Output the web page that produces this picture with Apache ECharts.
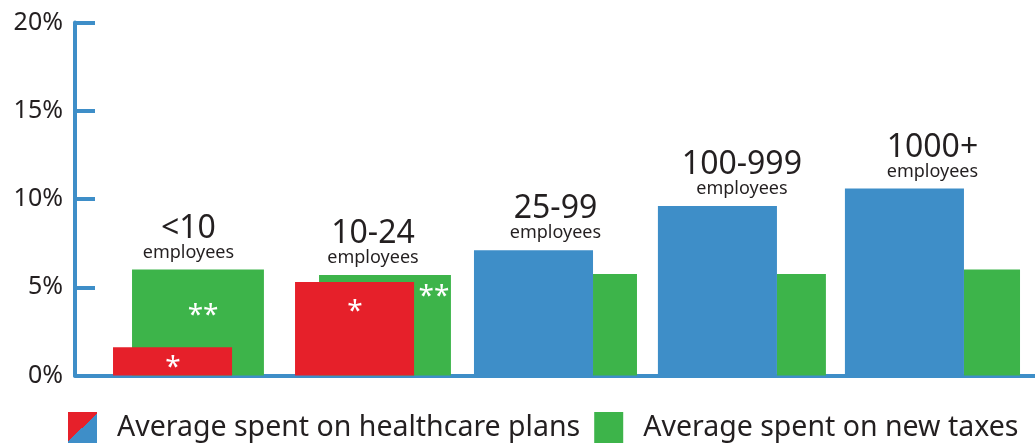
<!DOCTYPE html>
<html><head><meta charset="utf-8">
<script src="https://cdn.jsdelivr.net/npm/echarts@6/dist/echarts.min.js"></script>
<style>html,body{margin:0;padding:0;background:#fff;}#c{width:1035px;height:446px;}</style>
</head><body><div id="c"></div>
<script>
// ---- data ----
const categories = ['<10', '10-24', '25-99', '100-999', '1000+'];
const categorySub = 'employees';
const healthcareValues = [1.6, 5.3, 7.1, 9.6, 10.6];
const taxValues = [6.0, 5.7, 5.75, 5.75, 6.0];
const healthcareNotes = ['*', '*', '', '', ''];
const taxNotes = ['**', '**', '', '', ''];
const seriesNames = ['Average spent on healthcare plans', 'Average spent on new taxes'];
const yMin = 0, yMax = 20, yStep = 5;

// ---- layout / style (fractions of category band width) ----
const healthSpan = [[-0.302, 0.318], [-0.354, 0.266], [-0.422, 0.198], [-0.464, 0.156], [-0.490, 0.130]];
const taxSpan = [[-0.203, 0.484], [-0.229, 0.458], [0.198, 0.427], [0.156, 0.411], [0.130, 0.422]];
const healthNotePos = [[0.010, 15], [-0.042, 24], null, null, null];
const taxNotePos = [[0.167, 41], [0.370, 17], null, null, null];
const RED = '#e6202a', BLUE = '#3e8ec8', GREEN = '#3db44a', AXIS = '#3e8ec8', TEXT = '#231f20';
const healthColors = [RED, RED, BLUE, BLUE, BLUE];
const taxColors = [GREEN, GREEN, GREEN, GREEN, GREEN];
const FONT = "'Noto Sans', 'Open Sans', sans-serif";
const NOTE_SIZE = 28;

const splitGradient = {
  type: 'linear', x: 0, y: 0, x2: 1, y2: 1,
  colorStops: [{offset: 0, color: RED}, {offset: 0.5, color: RED}, {offset: 0.5, color: BLUE}, {offset: 1, color: BLUE}]
};

function barRect(api, i, spans, value) {
  const cat = api.value(0);
  const base = api.coord([cat, 0]);
  const top = api.coord([cat, value])[1];
  const band = api.size([1, 0])[0];
  return {x1: base[0] + spans[i][0] * band, x2: base[0] + spans[i][1] * band, top, bottom: base[1], cx: base[0], band};
}

function makeRender(spans, notes, notePos, colors, withLabels) {
  return function (params, api) {
    const i = params.dataIndex;
    const r = barRect(api, i, spans, api.value(1));
    const children = [{
      type: 'rect',
      shape: {x: r.x1, y: r.top, width: r.x2 - r.x1, height: r.bottom - r.top},
      style: {fill: colors[i]}
    }];
    if (notes[i]) {
      children.push({
        type: 'text',
        style: {
          text: notes[i], x: r.cx + notePos[i][0] * r.band, y: r.top + notePos[i][1] + NOTE_SIZE * 0.2,
          align: 'center', verticalAlign: 'middle', fill: '#ffffff',
          fontSize: NOTE_SIZE, fontFamily: FONT
        }
      });
    }
    if (withLabels) {
      const t = barRect(api, i, taxSpan, taxValues[i]);
      const maxTop = Math.min(r.top, t.top);
      const lx = (Math.min(r.x1, t.x1) + Math.max(r.x2, t.x2)) / 2;
      children.push({
        type: 'text',
        style: {text: categorySub, x: lx, y: maxTop - 17, align: 'center', verticalAlign: 'middle',
          fill: TEXT, fontSize: 18, fontFamily: FONT}
      });
      children.push({
        type: 'text',
        style: {text: categories[i], x: lx, y: maxTop - 41, align: 'center', verticalAlign: 'middle',
          fill: TEXT, fontSize: 32, fontFamily: FONT}
      });
    }
    return {type: 'group', children};
  };
}

const chart = echarts.init(document.getElementById('c'), null, {renderer: 'canvas'});
chart.setOption({
  animation: false,
  backgroundColor: '#ffffff',
  grid: {left: 75, right: 0, top: 22.5, bottom: 70.5, containLabel: false},
  xAxis: {
    type: 'category', data: categories, boundaryGap: true,
    axisLine: {show: true, lineStyle: {color: AXIS, width: 4}},
    axisTick: {show: false}, axisLabel: {show: false}, splitLine: {show: false}
  },
  yAxis: {
    type: 'value', min: yMin, max: yMax, interval: yStep,
    axisLine: {show: true, lineStyle: {color: AXIS, width: 4}},
    axisTick: {show: true, inside: true, length: 20, lineStyle: {color: AXIS, width: 4}},
    axisLabel: {formatter: '{value}%', fontSize: 25, color: TEXT, fontFamily: FONT, margin: 12},
    splitLine: {show: false}
  },
  legend: {
    left: 68, top: 412, width: 1000, padding: 0, itemWidth: 29, itemHeight: 31, itemGap: 14,
    icon: 'rect', selectedMode: false,
    data: [
      {name: seriesNames[0], itemStyle: {color: splitGradient}},
      {name: seriesNames[1], itemStyle: {color: GREEN}}
    ],
    textStyle: {fontSize: 28.5, color: TEXT, fontFamily: FONT, padding: [0, 0, 0, 15]}
  },
  series: [
    {
      name: seriesNames[1], type: 'custom', itemStyle: {color: GREEN},
      encode: {x: 0, y: 1},
      data: taxValues.map((v, i) => [i, v]),
      renderItem: makeRender(taxSpan, taxNotes, taxNotePos, taxColors, false)
    },
    {
      name: seriesNames[0], type: 'custom', itemStyle: {color: splitGradient},
      encode: {x: 0, y: 1},
      data: healthcareValues.map((v, i) => [i, v]),
      renderItem: makeRender(healthSpan, healthcareNotes, healthNotePos, healthColors, true)
    }
  ]
});
</script></body></html>
